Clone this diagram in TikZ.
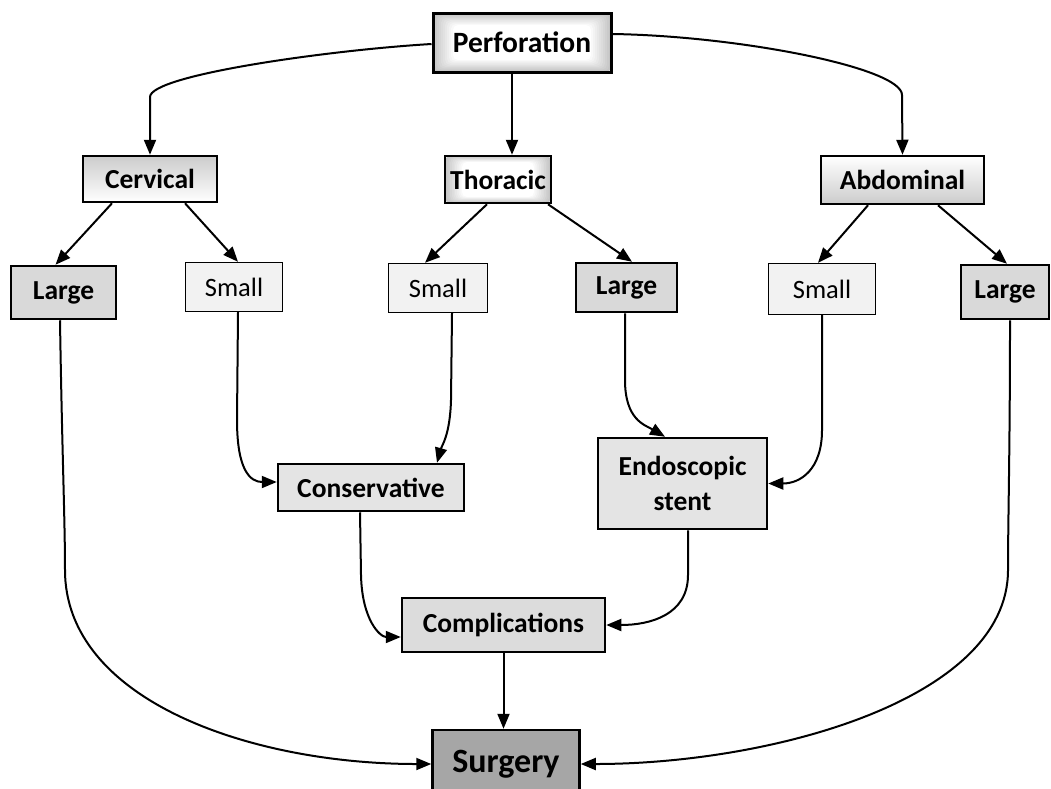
\documentclass[tikz,border=0pt]{standalone}
\usepackage{fontspec}
\setmainfont{Carlito}
\usetikzlibrary{arrows.meta,calc}
\definecolor{gl}{HTML}{C4C4C4}
\definecolor{lg}{HTML}{D9D9D9}
\definecolor{sm}{HTML}{F2F2F2}
\definecolor{mg}{HTML}{E4E4E4}
\definecolor{cg}{HTML}{DCDCDC}
\definecolor{sg}{HTML}{A6A6A6}
\begin{document}
\begin{tikzpicture}[x=1pt,y=-1pt,
  box/.style={draw=black, line width=2.5pt, inner sep=0pt, align=center,
    font=\bfseries\fontsize{27.5}{35}\selectfont},
  glowbox/.style n args={2}{box, path picture={
      \foreach \i in {0,...,10}{
        \pgfmathsetmacro{\p}{100-\i*10}
        \fill[gl!\p!white, rounded corners=5pt]
          ([xshift=\i*#1, yshift=\i*#2]path picture bounding box.south west) rectangle
          ([xshift=-\i*#1, yshift=-\i*#2]path picture bounding box.north east);
      }}},
  largebox/.style={box, fill=lg},
  smallbox/.style={draw=black, line width=1.4pt, fill=sm, inner sep=0pt,
    font=\fontsize{26.5}{30}\selectfont},
  arr/.style={line width=2pt, -{Triangle[length=15pt,width=12pt]}}]
\useasboundingbox (0,0) rectangle (1051,788);

% top level
\node[glowbox={2pt}{1.2pt}, line width=3pt, font=\bfseries\fontsize{29.5}{32}\selectfont,
  minimum width=178pt, minimum height=59pt] (perf) at (522,42.5) {Perforation};

% second level
\node[box, top color=gray!40, middle color=white, bottom color=white,
  minimum width=134pt, minimum height=46pt] (cerv) at (150,179) {Cervical};
\node[glowbox={1.7pt}{0.6pt}, minimum width=106pt, minimum height=47pt] (thor) at (498,179.5) {Thoracic};
\node[box, top color=white, middle color=white, bottom color=gray!40,
  minimum width=163pt, minimum height=48pt] (abd) at (902.5,180) {Abdominal};

% third level
\node[largebox, minimum width=105pt, minimum height=53pt] (largeL) at (63.5,292.5) {Large};
\node[smallbox, minimum width=97pt, minimum height=49pt] (smallL) at (234,287) {Small};
\node[smallbox, minimum width=99pt, minimum height=49pt] (smallM) at (438,288) {Small};
\node[largebox, minimum width=101pt, minimum height=49pt] (largeM) at (626.5,287.5) {Large};
\node[smallbox, minimum width=107pt, minimum height=51pt] (smallR) at (822,289) {Small};
\node[largebox, minimum width=88pt, minimum height=54pt] (largeR) at (1005,292) {Large};

% treatments
\node[box, fill=mg, minimum width=186pt, minimum height=47pt] (cons) at (371,487.5) {Conservative};
\node[box, fill=mg, minimum width=169pt, minimum height=91pt] (endo) at (682.5,483.5) {Endoscopic\\stent};
\node[box, fill=cg, minimum width=203pt, minimum height=54pt] (compl) at (503.5,625) {Complications};
\node[box, fill=sg, font=\bfseries\fontsize{34}{38}\selectfont,
  minimum width=147pt, minimum height=68pt] (surg) at (506,764) {Surgery};

% connectors from Perforation
\draw[arr] ([yshift=-1.5pt]perf.west) .. controls (330,50) and (150,75) .. (150,97) -- (cerv.north);
\draw[arr] ([yshift=8.5pt]perf.east) .. controls (740,36) and (902,68) .. (902,95) -- (abd.north);
\draw[arr] ([xshift=-10pt]perf.south) -- ([xshift=-10pt]perf.south |- thor.north);

% to third level
\draw[arr] ([xshift=-38pt]cerv.south) -- ([xshift=-8pt]largeL.north);
\draw[arr] ([xshift=35pt]cerv.south) -- ([xshift=4pt]smallL.north);
\draw[arr] ([xshift=-11pt]thor.south) -- ([xshift=-13pt]smallM.north);
\draw[arr] ([xshift=50pt]thor.south) -- ([xshift=5.5pt]largeM.north);
\draw[arr] ([xshift=-34.5pt]abd.south) -- ([xshift=-4pt]smallR.north);
\draw[arr] ([xshift=35.5pt]abd.south) -- ([xshift=2pt]largeR.north);

% to treatments
\draw[arr] ([xshift=-3.5pt]largeL.south) .. controls (62,450) and (65,520) .. (65,570)
  .. controls (65,700) and (250,764) .. (surg.west);
\draw[arr] ([xshift=5pt]largeR.south) .. controls (1010,450) and (1008,520) .. (1008,570)
  .. controls (1008,700) and (770,764) .. (surg.east);
\draw[arr] ([xshift=4pt]smallL.south) -- (237,420) .. controls (237,470) and (250,482) .. ([yshift=5.5pt]cons.west);
\draw[arr] ([xshift=14pt]smallM.south) -- (451,400) .. controls (450,435) and (442,445) .. ([xshift=66pt]cons.north);
\draw[arr] ([xshift=-1.5pt]largeM.south) -- (625,380) .. controls (625,420) and (645,425) .. ([xshift=-17.5pt]endo.north);
\draw[arr] (smallR.south) -- (822,430) .. controls (822,470) and (800,483.5) .. (endo.east);
\draw[arr] ([xshift=-11pt]cons.south) -- (361,575) .. controls (362,620) and (380,637) .. ([yshift=-12pt]compl.west);
\draw[arr] ([xshift=5.5pt]endo.south) -- (688,575) .. controls (688,615) and (650,625) .. (compl.east);
\draw[arr] (compl.south) -- (compl.south |- surg.north);
\end{tikzpicture}
\end{document}
